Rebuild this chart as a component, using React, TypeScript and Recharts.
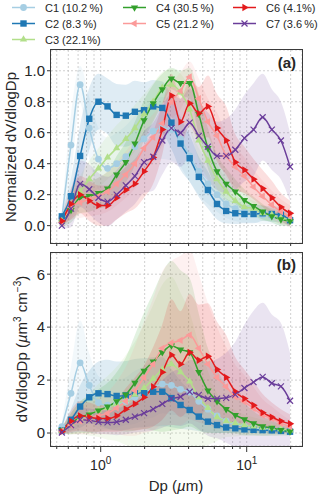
import React from 'react';
import { ComposedChart, Line, Area, XAxis, YAxis, CartesianGrid } from 'recharts';

// Particle diameter (µm), x categories
const dp = [0.542, 0.626, 0.723, 0.835, 0.965, 1.114, 1.286, 1.486, 1.715, 1.981, 2.288, 2.642, 3.051, 3.523, 4.068, 4.698, 5.425, 6.264, 7.234, 8.354, 9.647, 11.14, 12.86, 14.86, 17.15, 19.81];

const seriesNames = ['C1 (10.2\u2009%)', 'C2 (8.3\u2009%)', 'C3 (22.1%)', 'C4 (30.5\u2009%)', 'C5 (21.2\u2009%)', 'C6 (4.1%)', 'C7 (3.6\u2009%)'];
const xTicks = [0.5, 0.6, 0.7, 0.8, 0.9, 1, 2, 3, 4, 5, 6, 7, 8, 9, 10, 20];
const yTicksA = [0, 0.2, 0.4, 0.6, 0.8, 1.0];
const yTicksB = [0, 2, 4, 6];

// Panel (a): normalized means
const c1a = [0.05, 0.52, 0.91, 0.63, 0.43, 0.37, 0.40, 0.445, 0.51, 0.56, 0.61, 0.63, 0.62, 0.56, 0.45, 0.35, 0.27, 0.20, 0.14, 0.11, 0.09, 0.08, 0.07, 0.06, 0.05, 0.04];
const c2a = [0.06, 0.19, 0.45, 0.69, 0.80, 0.77, 0.715, 0.71, 0.735, 0.745, 0.77, 0.76, 0.665, 0.53, 0.435, 0.315, 0.23, 0.14, 0.095, 0.08, 0.075, 0.075, 0.08, 0.075, 0.07, 0.035];
const c3a = [0.03, 0.13, 0.22, 0.30, 0.37, 0.44, 0.50, 0.56, 0.63, 0.72, 0.80, 0.89, 0.91, 0.86, 0.75, 0.55, 0.42, 0.30, 0.22, 0.16, 0.12, 0.11, 0.08, 0.07, 0.05, 0.04];
const c4a = [0.02, 0.10, 0.18, 0.19, 0.21, 0.24, 0.33, 0.41, 0.53, 0.68, 0.79, 0.88, 0.95, 0.92, 0.92, 0.72, 0.50, 0.35, 0.27, 0.22, 0.165, 0.127, 0.09, 0.06, 0.04, 0.03];
const c5a = [0.02, 0.12, 0.15, 0.17, 0.19, 0.22, 0.27, 0.33, 0.40, 0.50, 0.57, 0.66, 0.80, 0.87, 0.96, 0.82, 0.67, 0.58, 0.45, 0.38, 0.32, 0.25, 0.19, 0.135, 0.09, 0.06];
const c6a = [0.03, 0.14, 0.20, 0.16, 0.13, 0.13, 0.18, 0.23, 0.27, 0.35, 0.44, 0.62, 0.84, 0.67, 0.79, 0.725, 0.77, 0.63, 0.55, 0.41, 0.36, 0.30, 0.24, 0.18, 0.12, 0.08];
const c7a = [0.0, 0.11, 0.27, 0.235, 0.18, 0.155, 0.20, 0.26, 0.32, 0.41, 0.445, 0.55, 0.63, 0.60, 0.665, 0.58, 0.51, 0.45, 0.45, 0.49, 0.565, 0.62, 0.70, 0.62, 0.55, 0.38];

// Panel (a): spread (std) of shaded bands
const s1a = [0.03, 0.2, 0.12, 0.2, 0.2, 0.2, 0.2, 0.2, 0.2, 0.2, 0.2, 0.2, 0.2, 0.18, 0.17, 0.15, 0.13, 0.11, 0.09, 0.08, 0.07, 0.06, 0.06, 0.05, 0.05, 0.04];
const s2a = [0.03, 0.12, 0.2, 0.2, 0.18, 0.18, 0.2, 0.2, 0.2, 0.18, 0.17, 0.17, 0.17, 0.17, 0.15, 0.13, 0.12, 0.1, 0.08, 0.07, 0.06, 0.06, 0.05, 0.05, 0.05, 0.04];
const s3a = [0.03, 0.08, 0.1, 0.12, 0.13, 0.14, 0.15, 0.15, 0.15, 0.13, 0.12, 0.1, 0.1, 0.12, 0.13, 0.13, 0.12, 0.1, 0.08, 0.07, 0.06, 0.05, 0.05, 0.04, 0.04, 0.03];
const s4a = [0.03, 0.08, 0.1, 0.1, 0.1, 0.11, 0.12, 0.13, 0.14, 0.13, 0.12, 0.1, 0.07, 0.08, 0.1, 0.13, 0.13, 0.11, 0.1, 0.08, 0.07, 0.06, 0.05, 0.04, 0.04, 0.03];
const s5a = [0.03, 0.08, 0.1, 0.11, 0.12, 0.13, 0.14, 0.15, 0.16, 0.16, 0.15, 0.14, 0.12, 0.12, 0.1, 0.13, 0.15, 0.15, 0.14, 0.13, 0.12, 0.11, 0.1, 0.09, 0.08, 0.07];
const s6a = [0.03, 0.1, 0.12, 0.13, 0.13, 0.13, 0.14, 0.15, 0.16, 0.17, 0.17, 0.16, 0.14, 0.15, 0.15, 0.17, 0.2, 0.22, 0.22, 0.18, 0.15, 0.13, 0.12, 0.11, 0.09, 0.08];
const s7a = [0.02, 0.12, 0.15, 0.16, 0.16, 0.16, 0.16, 0.17, 0.18, 0.2, 0.22, 0.22, 0.22, 0.22, 0.22, 0.22, 0.22, 0.22, 0.24, 0.26, 0.28, 0.3, 0.28, 0.26, 0.25, 0.22];

// Panel (b): absolute means (µm3 cm-3)
const c1b = [0.24, 1.5, 2.65, 1.8, 1.15, 1.05, 1.1, 1.2, 1.35, 1.5, 1.7, 1.85, 1.8, 1.65, 1.55, 1.2, 0.9, 0.65, 0.45, 0.32, 0.25, 0.2, 0.15, 0.12, 0.1, 0.08];
const c2b = [0.1, 0.5, 1.0, 1.35, 1.5, 1.47, 1.4, 1.42, 1.5, 1.52, 1.56, 1.56, 1.32, 1.06, 0.87, 0.62, 0.43, 0.30, 0.21, 0.18, 0.14, 0.12, 0.11, 0.10, 0.08, 0.05];
const c3b = [0.08, 0.35, 0.55, 0.7, 0.85, 0.95, 1.1, 1.25, 1.45, 1.7, 2.05, 2.4, 2.6, 2.3, 1.95, 1.35, 0.95, 0.6, 0.45, 0.37, 0.3, 0.25, 0.2, 0.18, 0.15, 0.1];
const c4b = [0.1, 0.35, 0.6, 0.7, 0.85, 1.0, 1.2, 1.45, 1.9, 2.35, 2.7, 3.05, 3.3, 3.15, 3.05, 2.3, 1.6, 1.2, 0.9, 0.68, 0.52, 0.37, 0.25, 0.2, 0.11, 0.06];
const c5b = [0.08, 0.3, 0.45, 0.55, 0.65, 0.75, 0.95, 1.2, 1.6, 2.1, 2.6, 3.2, 3.4, 3.5, 3.7, 3.2, 2.6, 2.1, 1.75, 1.37, 1.18, 0.93, 0.68, 0.55, 0.37, 0.24];
const c6b = [0.05, 0.45, 0.65, 0.6, 0.55, 0.55, 0.65, 0.9, 1.1, 1.35, 1.75, 2.3, 2.95, 2.6, 3.05, 2.75, 2.9, 2.4, 2.1, 1.56, 1.3, 1.05, 0.77, 0.6, 0.45, 0.35];
const c7b = [0.02, 0.3, 0.5, 0.48, 0.42, 0.4, 0.42, 0.5, 0.62, 0.75, 0.9, 1.1, 1.3, 1.37, 1.56, 1.44, 1.3, 1.3, 1.33, 1.45, 1.7, 1.92, 2.12, 1.88, 1.76, 1.22];

// Panel (b): spread (std) of shaded bands
const s1b = [0.15, 1.0, 1.6, 1.2, 1.0, 0.9, 0.9, 0.9, 1.0, 1.0, 1.1, 1.1, 1.1, 1.0, 1.0, 0.8, 0.6, 0.45, 0.35, 0.25, 0.2, 0.18, 0.15, 0.12, 0.1, 0.08];
const s2b = [0.1, 0.4, 0.8, 1.0, 1.2, 1.3, 1.3, 1.3, 1.3, 1.3, 1.3, 1.3, 1.1, 0.9, 0.75, 0.55, 0.4, 0.3, 0.2, 0.18, 0.14, 0.12, 0.11, 0.1, 0.08, 0.06];
const s3b = [0.1, 0.4, 0.6, 0.8, 1.0, 1.2, 1.4, 1.7, 2.0, 2.4, 2.8, 3.2, 3.3, 3.0, 2.6, 2.0, 1.4, 0.9, 0.6, 0.5, 0.4, 0.35, 0.3, 0.25, 0.2, 0.15];
const s4b = [0.1, 0.4, 0.6, 0.7, 0.8, 0.9, 1.1, 1.4, 1.8, 2.2, 2.6, 3.0, 3.2, 3.0, 2.8, 2.2, 1.6, 1.2, 0.9, 0.7, 0.6, 0.45, 0.35, 0.3, 0.2, 0.15];
const s5b = [0.1, 0.35, 0.5, 0.6, 0.7, 0.8, 1.0, 1.3, 1.7, 2.1, 2.5, 2.9, 3.1, 3.2, 3.2, 2.8, 2.3, 1.9, 1.5, 1.2, 1.0, 0.8, 0.6, 0.45, 0.35, 0.25];
const s6b = [0.1, 0.4, 0.55, 0.55, 0.5, 0.5, 0.6, 0.8, 1.0, 1.2, 1.5, 1.8, 2.1, 2.0, 2.2, 2.1, 2.0, 1.8, 1.6, 1.3, 1.1, 0.9, 0.7, 0.55, 0.45, 0.35];
const s7b = [0.05, 0.3, 0.45, 0.45, 0.45, 0.45, 0.5, 0.55, 0.6, 0.7, 0.8, 0.9, 1.0, 1.1, 1.2, 1.3, 1.4, 1.5, 1.7, 2.0, 2.4, 2.7, 2.8, 2.6, 2.4, 1.8];

const colors = ['#a6cee3', '#1f78b4', '#b2df8a', '#33a02c', '#fb9a99', '#e31a1c', '#6a3d9a'];
const markers = ['circle', 'square', 'up', 'down', 'left', 'right', 'x'];

const meansA = [c1a, c2a, c3a, c4a, c5a, c6a, c7a];
const sdsA = [s1a, s2a, s3a, s4a, s5a, s6a, s7a];
const meansB = [c1b, c2b, c3b, c4b, c5b, c6b, c7b];
const sdsB = [s1b, s2b, s3b, s4b, s5b, s6b, s7b];

const buildRows = (means: number[][], sds: number[][]) =>
  dp.map((d, i) => {
    const row: any = { dp: d };
    means.forEach((m, k) => {
      row['m' + k] = m[i];
      row['s' + k] = sds[k][i];
    });
    return row;
  });

const rowsA = buildRows(meansA, sdsA);
const rowsB = buildRows(meansB, sdsB);

const FONT = '"Liberation Sans", Arial, sans-serif';
const TXT = '#262626';

const Marker = ({ kind, cx, cy, color }: any) => {
  if (cx == null || cy == null) return null;
  const r = 4.2;
  switch (kind) {
    case 'circle':
      return <circle cx={cx} cy={cy} r={3.4} fill={color} stroke="none" />;
    case 'square':
      return <rect x={cx - 3.2} y={cy - 3.2} width={6.4} height={6.4} fill={color} stroke="none" />;
    case 'up':
      return <polygon points={`${cx},${cy - r} ${cx - r * 0.87},${cy + r / 2} ${cx + r * 0.87},${cy + r / 2}`} fill={color} />;
    case 'down':
      return <polygon points={`${cx},${cy + r} ${cx - r * 0.87},${cy - r / 2} ${cx + r * 0.87},${cy - r / 2}`} fill={color} />;
    case 'left':
      return <polygon points={`${cx - r},${cy} ${cx + r / 2},${cy - r * 0.87} ${cx + r / 2},${cy + r * 0.87}`} fill={color} />;
    case 'right':
      return <polygon points={`${cx + r},${cy} ${cx - r / 2},${cy - r * 0.87} ${cx - r / 2},${cy + r * 0.87}`} fill={color} />;
    case 'x':
      return (
        <g stroke={color} strokeWidth={1.2}>
          <line x1={cx - 3} y1={cy - 3} x2={cx + 3} y2={cy + 3} />
          <line x1={cx - 3} y1={cy + 3} x2={cx + 3} y2={cy - 3} />
        </g>
      );
    default:
      return null;
  }
};

const makeXTick = (showLabel: boolean) => (props: any) => {
  const { x, y, payload } = props;
  const v = payload.value;
  const major = v === 1 || v === 10;
  const len = major ? 6 : 3;
  return (
    <g key={`xt-${v}`}>
      <line x1={x} x2={x} y1={y} y2={y + len} stroke="#333" strokeWidth={1} />
      {showLabel && major && (
        <text x={x} y={y + 24} textAnchor="middle" fontSize={14} fill={TXT} fontFamily={FONT}>
          10<tspan dy={-6} fontSize={10}>{v === 1 ? '0' : '1'}</tspan>
        </text>
      )}
    </g>
  );
};

const Panel = ({ rows, domainY, ticksY, fmt, showXLabels, margin, height }: any) => (
  <ComposedChart width={320} height={height} data={rows} margin={margin}>
    <CartesianGrid stroke="#c4c4c4" strokeDasharray="2 2" strokeWidth={0.8} />
    <XAxis
      dataKey="dp"
      type="number"
      scale="log"
      domain={[0.4567, 23.92]}
      allowDataOverflow
      ticks={xTicks}
      interval={0}
      axisLine={false}
      tickLine={false}
      tickSize={0}
      tickMargin={0}
      height={showXLabels ? 30 : 7}
      tick={makeXTick(showXLabels)}
    />
    <YAxis
      type="number"
      domain={domainY}
      allowDataOverflow
      ticks={ticksY}
      tickFormatter={fmt}
      axisLine={false}
      tickLine={{ stroke: '#333' }}
      tickSize={4}
      tickMargin={2}
      width={40}
      tick={{ fontSize: 15, fill: TXT, fontFamily: FONT }}
    />
    {colors.map((c, k) => (
      <Area
        key={'band' + k}
        type="monotone"
        dataKey={(d: any) => [d['m' + k] - d['s' + k], d['m' + k] + d['s' + k]]}
        stroke="none"
        fill={c}
        fillOpacity={0.14}
        isAnimationActive={false}
        activeDot={false}
      />
    ))}
    {colors.map((c, k) => (
      <Line
        key={'line' + k}
        type="monotone"
        dataKey={'m' + k}
        stroke={c}
        strokeWidth={1.5}
        isAnimationActive={false}
        activeDot={false}
        dot={(p: any) => <Marker key={`mk-${k}-${p.index}`} kind={markers[k]} cx={p.cx} cy={p.cy} color={c} />}
      />
    ))}
  </ComposedChart>
);

const legendPos = [
  { col: 0, row: 0 },
  { col: 0, row: 1 },
  { col: 0, row: 2 },
  { col: 1, row: 0 },
  { col: 1, row: 1 },
  { col: 2, row: 0 },
  { col: 2, row: 1 },
];
const colX = [12, 123, 233];
const rowY = [7.5, 23.5, 39.5];

const Legend = () => (
  <svg width={320} height={50} style={{ position: 'absolute', left: 0, top: 0 }}>
    {seriesNames.map((name, k) => {
      const x0 = colX[legendPos[k].col];
      const y0 = rowY[legendPos[k].row];
      return (
        <g key={name}>
          <line x1={x0} x2={x0 + 23} y1={y0} y2={y0} stroke={colors[k]} strokeWidth={1.5} />
          <Marker kind={markers[k]} cx={x0 + 11.5} cy={y0} color={colors[k]} />
          <text x={x0 + 33} y={y0 + 4} fontSize={11} fill={TXT} fontFamily={FONT}>{name}</text>
        </g>
      );
    })}
  </svg>
);

const Frame = ({ top }: { top: number }) => (
  <div
    style={{
      position: 'absolute',
      left: 50,
      top,
      width: 253,
      height: 195,
      border: '1.6px solid #3a3a3a',
      boxSizing: 'border-box',
      pointerEvents: 'none',
    }}
  />
);

export default function App() {
  return (
    <div style={{ position: 'absolute', left: 0, top: 0, width: 320, height: 497, background: '#fff', fontFamily: FONT, color: TXT, overflow: 'hidden' }}>
      <Legend />
      <div style={{ position: 'absolute', left: 0, top: 0 }}>
        <Panel
          rows={rowsA}
          domainY={[-0.112, 1.134]}
          ticksY={yTicksA}
          fmt={(v: number) => v.toFixed(1)}
          showXLabels={false}
          height={250}
          margin={{ top: 50, right: 18, bottom: 0, left: 11 }}
        />
      </div>
      <div style={{ position: 'absolute', left: 0, top: 250 }}>
        <Panel
          rows={rowsB}
          domainY={[-0.49, 6.8]}
          ticksY={yTicksB}
          fmt={(v: number) => String(v)}
          showXLabels={true}
          height={247}
          margin={{ top: 3, right: 18, bottom: 21, left: 11 }}
        />
      </div>
      <Frame top={49} />
      <Frame top={252} />
      <div style={{ position: 'absolute', left: 296, top: 62, transform: 'translate(-100%,-50%)', fontWeight: 'bold', fontSize: 15 }}>(a)</div>
      <div style={{ position: 'absolute', left: 296, top: 264, transform: 'translate(-100%,-50%)', fontWeight: 'bold', fontSize: 15 }}>(b)</div>
      <div style={{ position: 'absolute', left: 10, top: 147, transform: 'translate(-50%,-50%) rotate(-90deg)', whiteSpace: 'nowrap', fontSize: 15 }}>
        Normalized dV/dlogDp
      </div>
      <div style={{ position: 'absolute', left: 21, top: 349, transform: 'translate(-50%,-50%) rotate(-90deg)', whiteSpace: 'nowrap', fontSize: 15 }}>
        dV/dlogDp (<i>µ</i>m<sup style={{ fontSize: 10 }}>3</sup> cm<sup style={{ fontSize: 10 }}>−3</sup>)
      </div>
      <div style={{ position: 'absolute', left: 176, top: 485, transform: 'translate(-50%,-50%)', whiteSpace: 'nowrap', fontSize: 15 }}>
        Dp (<i>µ</i>m)
      </div>
    </div>
  );
}
